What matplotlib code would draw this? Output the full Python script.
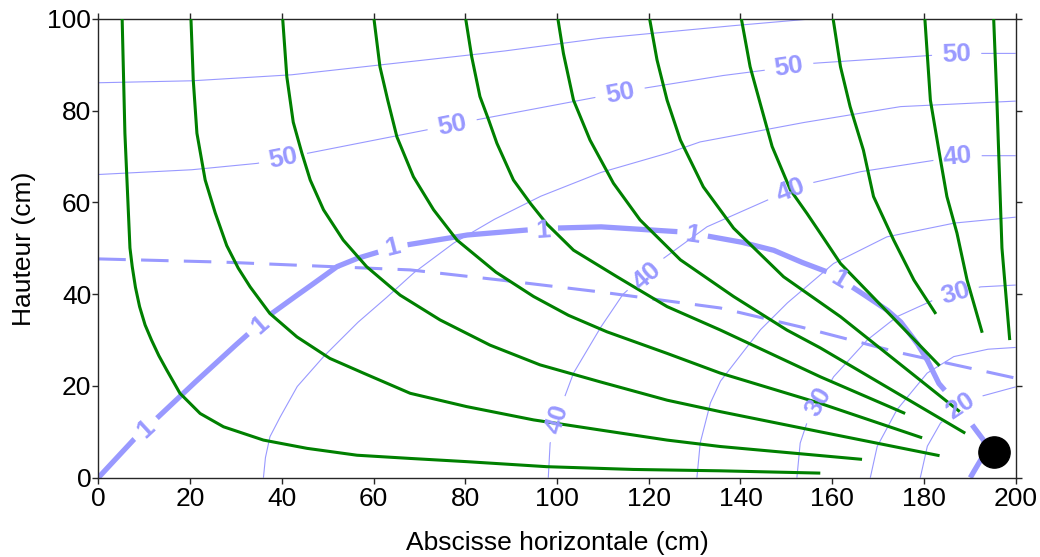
import numpy as np
import matplotlib
matplotlib.use("Agg")
import matplotlib.pyplot as plt

plt.rcParams["font.family"] = ["Liberation Sans", "DejaVu Sans"]

FLOW = "#008000"
HEAD = "#9999ff"
AXIS = "#262626"

# Flow paths (cm), each from the soil surface towards the drain
path_05_x = [5.2, 5.8, 6.9, 7.4, 8.1, 9.0, 10.2, 11.6, 13.2, 14.9, 17.8, 22.2, 27.3, 36.0, 45.5, 56.4, 68.0, 80.3, 97.8, 116.6, 135.6, 157.4]
path_05_y = [100, 75.1, 50.1, 46.0, 41.5, 37.3, 33.3, 30.0, 26.6, 23.5, 18.4, 14.0, 11.1, 8.2, 6.4, 4.9, 4.2, 3.5, 2.4, 1.8, 1.5, 1.0]
path_20_x = [20.2, 20.7, 21.5, 23.3, 25.5, 28.0, 30.5, 33.1, 37.4, 43.3, 50.5, 57.8, 68.0, 80.3, 94.9, 109.4, 124.0, 135.6, 166.5]
path_20_y = [100, 86.7, 75.1, 64.9, 57.7, 50.6, 45.7, 41.6, 35.8, 30.7, 26.0, 22.8, 18.4, 15.5, 12.6, 10.4, 8.2, 6.8, 4.0]
path_40_x = [40.2, 41.1, 42.5, 44.4, 46.2, 49.1, 53.4, 58.5, 65.8, 74.5, 85.4, 96.3, 109.4, 124.0, 135.6, 157.4, 183.4]
path_40_y = [100, 87.4, 77.5, 70.7, 64.9, 58.4, 51.8, 46.0, 39.8, 34.4, 28.9, 24.6, 20.9, 16.9, 14.4, 10.0, 4.8]
path_60_x = [60.1, 61.4, 63.1, 65.1, 68.7, 73.1, 78.2, 86.7, 94.9, 102.5, 110.9, 124.0, 135.6, 157.4, 179.6]
path_60_y = [100, 89.6, 82.3, 74.3, 65.6, 58.4, 51.8, 44.8, 39.5, 35.4, 31.8, 27.1, 22.8, 16.2, 8.7]
path_80_x = [80.1, 81.4, 83.2, 85.1, 86.9, 90.5, 94.2, 97.8, 103.6, 113.1, 124.0, 135.6, 157.4, 175.9]
path_80_y = [100, 91.8, 83.1, 78.0, 72.9, 64.9, 59.8, 55.3, 49.6, 43.8, 37.3, 32.2, 22.0, 14.0]
path_100_x = [100.2, 101.4, 103.6, 107.2, 112.3, 118.1, 126.9, 138.5, 150.1, 157.4, 189.0]
path_100_y = [100, 92.5, 82.3, 73.6, 64.2, 56.2, 47.5, 39.5, 32.2, 28.3, 9.7]
path_120_x = [120.2, 121.8, 124.0, 126.9, 131.9, 138.5, 149.4, 161.8, 187.8]
path_120_y = [100, 91.1, 82.3, 73.6, 63.4, 54.4, 43.8, 35.1, 14.4]
path_140_x = [140.2, 142.1, 144.3, 146.9, 150.9, 154.5, 157.4, 161.8, 183.4]
path_140_y = [100, 89.6, 81.6, 72.2, 62.7, 57.6, 53.3, 46.7, 24.4]
path_160_x = [160.2, 161.8, 163.9, 166.8, 169.0, 173.4, 177.8, 182.6]
path_160_y = [100, 89.6, 80.9, 71.4, 61.3, 51.8, 43.1, 35.7]
path_180_x = [180.2, 181.4, 183.6, 185.0, 187.2, 189.4, 192.7]
path_180_y = [100, 82.3, 69.3, 61.3, 53.3, 43.1, 31.6]
path_195_x = [195.2, 195.9, 197.0, 198.7]
path_195_y = [100, 82.3, 50.1, 30.0]

# Hydraulic head isolines (cm)
head_55_x = [0, 20.0, 41.8, 68.0, 87.6, 109.4, 135.6, 155.2]
head_55_y = [86.1, 86.5, 87.8, 90.7, 92.9, 95.8, 98.3, 100]
head_50_x = [0, 20.0, 34.5, 45.5, 68.0, 81.8, 109.4, 118.9, 135.6, 145.8, 155.2, 182.1, 192.3, 200]
head_50_y = [66.1, 67.1, 68.5, 70.7, 75.1, 77.9, 83.1, 84.9, 87.6, 88.9, 90.3, 92.1, 92.5, 92.5]
head_50_lab_x = [40.3, 77.1, 113.8, 150.5, 187.2]
head_50_lab_y = [69.7, 76.9, 83.8, 89.6, 92.3]
head_45_x = [36.0, 36.4, 37.4, 39.3, 43.3, 49.1, 56.4, 62.2, 68.7, 77.4, 86.1, 96.3, 109.4, 124.0, 131.2, 153.0, 174.9, 200]
head_45_y = [0, 4.2, 8.9, 12.6, 19.8, 26.4, 33.7, 38.7, 44.6, 51.1, 56.2, 61.3, 66.5, 70.7, 73.2, 77.3, 80.9, 82.1]
head_40_x = [98.1, 98.5, 101.4, 103.6, 109.4, 114.4, 123.2, 132.7, 145.8, 155.2, 166.1, 182.9, 192.3, 200]
head_40_y = [0, 7.5, 16.9, 22.8, 32.6, 40.0, 47.8, 54.7, 60.5, 64.2, 66.7, 69.3, 70.2, 70.2]
head_40_lab_x = [100.0, 119.6, 150.9, 187.3]
head_40_lab_y = [12.8, 44.0, 62.7, 69.9]
head_35_x = [130.5, 131.2, 133.4, 135.6, 140.0, 144.3, 150.1, 160.3, 171.9, 186.5, 200]
head_35_y = [0, 7.5, 16.2, 21.0, 26.7, 32.2, 38.0, 46.7, 52.5, 55.5, 56.8]
head_30_x = [152.3, 153.0, 154.4, 160.3, 167.6, 174.1, 182.9, 192.3, 200]
head_30_y = [0, 7.5, 11.7, 22.0, 30.0, 35.1, 39.1, 41.6, 42.0]
head_30_lab_x = [157.0, 186.8]
head_30_lab_y = [16.5, 40.3]
head_25_x = [168.3, 169.8, 174.1, 180.7, 186.5, 193.8, 200]
head_25_y = [0, 6.8, 14.8, 22.8, 26.4, 28.0, 28.4]
head_20_x = [179.2, 180.7, 183.6, 188.0, 192.3, 200]
head_20_y = [0, 6.8, 11.9, 15.5, 17.7, 19.8]
head_20_lab_x = [188.0]
head_20_lab_y = [15.6]

# Unit isoline (thick) and its labels
unity_x = [0, 7.6, 12.7, 20.0, 28.7, 32.4, 37.4, 41.8, 45.5, 52.0, 56.4, 61.4, 66.9, 73.8, 80.3,
           93.4, 99.2, 109.4, 126.9, 132.7, 140.0, 147.2, 153.0, 159.6, 165.4, 171.9, 174.9,
           178.5, 180.7, 183.2, 187.9, 190.8, 193.0, 193.4, 191.6, 190.1]
unity_y = [0, 8.2, 12.9, 19.8, 27.8, 31.1, 35.5, 38.7, 41.3, 46.0, 47.8, 49.3, 50.7, 51.8, 52.9,
           54.0, 54.4, 54.7, 53.6, 52.7, 51.4, 49.6, 47.1, 44.6, 40.9, 36.6, 34.0,
           29.3, 25.7, 20.6, 15.2, 11.1, 8.2, 5.6, 2.6, 0]
unity_lab_x = [10.3, 35.3, 64.2, 96.9, 129.6, 161.5]
unity_lab_y = [10.7, 33.3, 50.1, 53.9, 52.8, 43.1]

# Water table
table_x = [0, 27.2, 68.0, 87.6, 109.4, 135.6, 153.0, 174.9, 200]
table_y = [47.7, 47.0, 45.3, 43.1, 40.5, 37.0, 32.9, 27.2, 21.7]

# Drain position
drain_x = [195.3]
drain_y = [5.7]

W, H = 1040, 557
fig = plt.figure(figsize=(W / 100, H / 100), dpi=100)
ax = fig.add_axes([98.3 / W, 1 - 477.7 / H, (1015.7 - 98.3) / W, (477.7 - 19.0) / H])
ax.set_xlim(0, 200)
ax.set_ylim(0, 100)


def isoline(xs, ys, lab_x=(), lab_y=(), text="", gap=22, lw=0.8, z=1, clear=()):
    """Draw an isoline, leaving a gap under each inline label (and under `clear` points)."""
    xs = np.asarray(xs, float)
    ys = np.asarray(ys, float)
    t = np.linspace(0, 1, 80, endpoint=False)
    fx = np.concatenate([xs[i] + (xs[i + 1] - xs[i]) * t for i in range(len(xs) - 1)] + [xs[-1:]])
    fy = np.concatenate([ys[i] + (ys[i + 1] - ys[i]) * t for i in range(len(ys) - 1)] + [ys[-1:]])
    disp = ax.transData.transform(np.column_stack([fx, fy]))
    keep = np.ones(len(fx), bool)
    for cx, cy, r in clear:
        c = ax.transData.transform((cx, cy))
        keep &= np.hypot(disp[:, 0] - c[0], disp[:, 1] - c[1]) > r
    for lx, ly in zip(lab_x, lab_y):
        c = ax.transData.transform((lx, ly))
        d = np.hypot(disp[:, 0] - c[0], disp[:, 1] - c[1])
        keep &= d > gap
        i = int(np.argmin(d))
        a, b = max(i - 40, 0), min(i + 40, len(fx) - 1)
        ang = np.degrees(np.arctan2(disp[b, 1] - disp[a, 1], disp[b, 0] - disp[a, 0]))
        if ang > 90:
            ang -= 180
        elif ang < -90:
            ang += 180
        ax.text(lx, ly, text, rotation=ang, rotation_mode="anchor", ha="center", va="center",
                fontsize=19, fontweight="bold", color=HEAD, zorder=6)
    ax.plot(np.where(keep, fx, np.nan), fy, color=HEAD, lw=lw, zorder=z,
            solid_capstyle="butt")


isoline(head_55_x, head_55_y)
isoline(head_50_x, head_50_y, head_50_lab_x, head_50_lab_y, "50", gap=24)
isoline(head_45_x, head_45_y)
isoline(head_40_x, head_40_y, head_40_lab_x, head_40_lab_y, "40", gap=24)
isoline(head_35_x, head_35_y)
isoline(head_30_x, head_30_y, head_30_lab_x, head_30_lab_y, "30", gap=24)
isoline(head_25_x, head_25_y)
isoline(head_20_x, head_20_y, head_20_lab_x, head_20_lab_y, "20", gap=24)
isoline(unity_x, unity_y, unity_lab_x, unity_lab_y, "1", gap=15, lw=3.8, z=2,
        clear=[(head_20_lab_x[0], head_20_lab_y[0], 22)])

ax.plot(table_x, table_y, color=HEAD, lw=2.2, dashes=(9, 5), zorder=2)

for px, py in [(path_05_x, path_05_y), (path_20_x, path_20_y), (path_40_x, path_40_y),
               (path_60_x, path_60_y), (path_80_x, path_80_y), (path_100_x, path_100_y),
               (path_120_x, path_120_y), (path_140_x, path_140_y), (path_160_x, path_160_y),
               (path_180_x, path_180_y), (path_195_x, path_195_y)]:
    ax.plot(px, py, color=FLOW, lw=2.2, zorder=3, solid_capstyle="butt", solid_joinstyle="round")

ax.plot(drain_x, drain_y, "o", color="black", ms=22.5, zorder=7, clip_on=False)

ax.set_xticks(np.arange(0, 201, 20))
ax.set_yticks(np.arange(0, 101, 20))
ax.tick_params(direction="out", length=4, width=1, colors=AXIS, labelcolor="black",
               labelsize=19, top=True, right=True)
ax.tick_params(axis="x", pad=3)
ax.tick_params(axis="y", pad=1)
for s in ax.spines.values():
    s.set_color(AXIS)
    s.set_linewidth(1.0)

ax.set_xlabel("Abscisse horizontale (cm)", fontsize=19, labelpad=14)
ax.set_ylabel("Hauteur (cm)", fontsize=19, labelpad=8)

fig.savefig("out.png", dpi=100)
